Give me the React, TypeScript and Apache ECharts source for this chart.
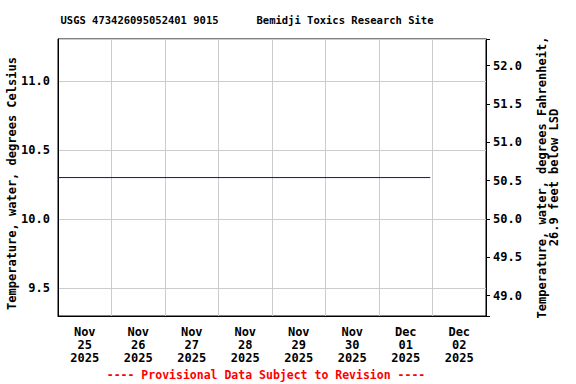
import React, { useEffect, useRef } from "react";
import * as echarts from "echarts";

const titleText = "USGS 473426095052401 9015      Bemidji Toxics Research Site";
const footerText = "---- Provisional Data Subject to Revision ----";
const dayLabels = [
  "Nov\n25\n2025",
  "Nov\n26\n2025",
  "Nov\n27\n2025",
  "Nov\n28\n2025",
  "Nov\n29\n2025",
  "Nov\n30\n2025",
  "Dec\n01\n2025",
  "Dec\n02\n2025",
];
const rangeStart = "2025-11-25T00:00:00Z";
const rangeEnd = "2025-12-03T00:00:00Z";
const seriesTimes = ["2025-11-25T00:00:00Z", "2025-12-01T23:00:00Z"];
const seriesValues = [10.3, 10.3];
const leftAxisName = "Temperature, water, degrees Celsius";
const rightAxisName = "Temperature, water, degrees Fahrenheit,\n26.9 feet below LSD";
const celsiusMin = 9.297;
const celsiusMax = 11.304;

const FONT = "'DejaVu Sans Mono', 'Liberation Mono', monospace";

const hoursFrom = (t: string) =>
  (Date.parse(t) - Date.parse(rangeStart)) / 3600000;

export default function App() {
  const ref = useRef<HTMLDivElement>(null);
  useEffect(() => {
    if (!ref.current) return;
    const chart = echarts.init(ref.current, null, { renderer: "svg" });
    const toF = (c: number) => c * 1.8 + 32;
    const isHalf = (v: number) => Math.abs(v * 2 - Math.round(v * 2)) < 1e-6;
    chart.setOption({
      animation: false,
      backgroundColor: "#ffffff",
      textStyle: { fontFamily: FONT },
      grid: {
        left: 58,
        top: 39,
        right: 90,
        bottom: 68,
        outerBoundsMode: "none",
        containLabel: false,
        show: true,
        borderColor: "#000000",
        borderWidth: 1,
        backgroundColor: "transparent",
      },
      graphic: [
        {
          type: "text",
          x: 247,
          y: 20,
          style: {
            text: titleText,
            fontFamily: FONT,
            fontSize: 10.5,
            fontWeight: "bold",
            fill: "#000000",
            align: "center",
            verticalAlign: "middle",
          },
        },
        {
          type: "text",
          x: 266,
          y: 375,
          style: {
            text: footerText,
            fontFamily: FONT,
            fontSize: 11.5,
            fontWeight: "bold",
            fill: "#ff0000",
            align: "center",
            verticalAlign: "middle",
          },
        },
      ],
      xAxis: [
        {
          type: "category",
          data: dayLabels,
          boundaryGap: true,
          axisLine: { show: true, lineStyle: { color: "#000000" } },
          axisTick: { show: false },
          splitLine: { show: true, lineStyle: { color: "#cccccc", width: 1 } },
          axisLabel: {
            interval: 0,
            color: "#000000",
            fontFamily: FONT,
            fontSize: 12,
            fontWeight: "bold",
            lineHeight: 13,
            margin: 9,
          },
        },
        {
          type: "value",
          min: 0,
          max: hoursFrom(rangeEnd),
          show: false,
          splitLine: { show: false },
        },
      ],
      yAxis: [
        {
          type: "value",
          position: "left",
          min: celsiusMin,
          max: celsiusMax,
          splitNumber: 4,
          minInterval: 0.5,
          maxInterval: 0.5,
          axisLine: { show: true, lineStyle: { color: "#000000" } },
          axisTick: { show: false },
          splitLine: { show: true, lineStyle: { color: "#cccccc", width: 1 } },
          axisLabel: {
            color: "#000000",
            fontFamily: FONT,
            fontSize: 12,
            fontWeight: "bold",
            margin: 8,
            formatter: (v: number) => (isHalf(v) ? v.toFixed(1) : ""),
          },
          name: leftAxisName,
          nameLocation: "middle",
          nameRotate: 90,
          nameGap: 40,
          nameMoveOverlap: false,
          nameTextStyle: {
            color: "#000000",
            fontFamily: FONT,
            fontSize: 12,
            fontWeight: "bold",
            padding: [0, 12, 0, 0],
          },
        },
        {
          type: "value",
          position: "right",
          min: toF(celsiusMin),
          max: toF(celsiusMax),
          splitNumber: 7,
          minInterval: 0.5,
          maxInterval: 0.5,
          axisLine: { show: true, lineStyle: { color: "#000000" } },
          axisTick: {
            show: true,
            inside: false,
            length: 4,
            lineStyle: { color: "#000000" },
          },
          splitLine: { show: false },
          axisLabel: {
            color: "#000000",
            fontFamily: FONT,
            fontSize: 12,
            fontWeight: "bold",
            margin: 7,
            formatter: (v: number) => (isHalf(v) ? v.toFixed(1) : ""),
          },
          name: rightAxisName,
          nameLocation: "middle",
          nameRotate: 90,
          nameGap: 50,
          nameMoveOverlap: false,
          nameTextStyle: {
            color: "#000000",
            fontFamily: FONT,
            fontSize: 12,
            fontWeight: "bold",
            lineHeight: 12,
            align: "center",
          },
        },
      ],
      series: [
        {
          type: "line",
          xAxisIndex: 1,
          yAxisIndex: 0,
          data: seriesTimes.map((t, i) => [hoursFrom(t), seriesValues[i]]),
          showSymbol: false,
          symbol: "none",
          lineStyle: { color: "#0000ff", width: 1 },
        },
      ],
    });
    return () => chart.dispose();
  }, []);
  return (
    <div
      ref={ref}
      style={{ position: "fixed", left: 0, top: 0, width: 576, height: 384 }}
    />
  );
}
